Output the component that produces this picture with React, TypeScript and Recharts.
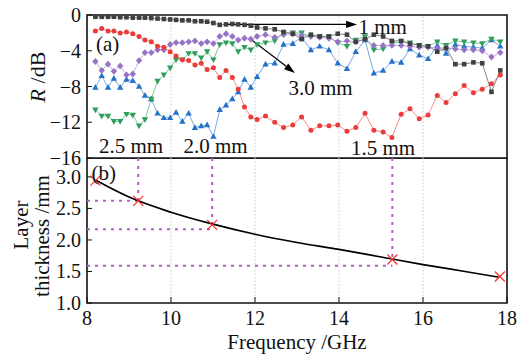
import {
  LineChart,
  ComposedChart,
  Line,
  Scatter,
  XAxis,
  YAxis,
  ReferenceLine,
  ReferenceArea,
  ReferenceDot,
} from 'recharts'

// X band and Ku band sweep frequencies (GHz)
const freqX = [8.2, 8.35, 8.5, 8.64, 8.79, 8.94, 9.09, 9.24, 9.38, 9.53, 9.68, 9.83, 9.98, 10.12, 10.27, 10.42, 10.57, 10.72, 10.86, 11.01, 11.16, 11.31, 11.46, 11.6, 11.75, 11.9, 12.05]
const freqKu = [12.25, 12.47, 12.68, 12.9, 13.11, 13.33, 13.54, 13.76, 13.97, 14.19, 14.4, 14.62, 14.83, 15.05, 15.26, 15.48, 15.69, 15.91, 16.12, 16.34, 16.55, 16.77, 16.98, 17.2, 17.41, 17.63, 17.84]
const freqGHz = [...freqX, ...freqKu]

// reflection loss R (dB) per layer thickness
const r10mm = [
  -0.2, -0.2, -0.2, -0.2, -0.25, -0.25, -0.3, -0.3, -0.3, -0.35, -0.4, -0.45, -0.5, -0.55, -0.6, -0.6, -0.7, -0.7, -0.75, -0.9, -1.1, -1.05, -1.0, -1.05, -1.1, -1.2, -1.4,
  -1.5, -1.6, -1.9, -2.1, -2.7, -2.2, -2.4, -2.4, -2.1, -2.2, -3.0, -2.7, -2.2, -2.4, -2.9, -2.9, -3.2, -3.4, -3.5, -4.1, -3.7, -5.5, -5.5, -5.3, -5.4, -8.6, -6.2,
]
const r15mm = [
  -1.8, -1.5, -1.8, -1.8, -2.0, -1.9, -2.1, -2.4, -2.8, -3.0, -3.5, -3.6, -4.1, -4.6, -5.0, -5.1, -5.6, -5.4, -6.1, -5.9, -7.0, -6.2, -7.0, -8.3, -10.3, -11.4, -11.7,
  -11.3, -12.0, -12.6, -12.3, -11.4, -12.9, -12.4, -12.4, -12.3, -13.0, -12.6, -11.0, -12.9, -13.1, -13.7, -11.1, -10.5, -11.6, -11.2, -9.0, -9.8, -8.8, -7.9, -8.7, -8.3, -7.7, -6.7,
]
const r20mm = [
  -8.1, -6.8, -8.1, -7.1, -8.1, -7.2, -7.35, -8.0, -9.0, -9.4, -11.0, -11.5, -11.5, -10.9, -11.9, -11.0, -12.6, -12.4, -12.3, -13.6, -10.6, -10.1, -9.4, -8.6, -7.2, -8.1, -6.9,
  -5.5, -5.4, -3.3, -3.2, -2.5, -3.9, -3.5, -3.9, -5.4, -6.0, -4.1, -2.8, -6.5, -6.2, -5.2, -5.3, -3.8, -4.5, -4.9, -3.4, -4.3, -3.3, -3.5, -3.6, -3.7, -2.8, -3.5,
]
const r25mm = [
  -10.6, -11.3, -11.3, -11.9, -11.9, -11.1, -11.2, -12.4, -11.7, -9.4, -7.4, -6.7, -5.9, -5.0, -5.0, -4.3, -4.3, -4.8, -4.1, -5.0, -3.3, -3.1, -3.2, -4.1, -3.6, -3.9, -3.3,
  -3.1, -2.9, -2.0, -2.0, -2.0, -2.4, -2.4, -2.4, -3.1, -3.5, -2.8, -2.4, -3.9, -3.8, -3.2, -3.0, -3.1, -3.4, -3.5, -3.0, -3.4, -2.9, -3.0, -3.1, -3.2, -2.7, -3.0,
]
const r30mm = [
  -5.2, -6.2, -5.5, -6.3, -5.7, -6.7, -6.6, -5.1, -4.2, -4.2, -3.9, -3.9, -3.3, -3.1, -3.1, -3.0, -2.9, -3.2, -3.0, -3.2, -2.4, -2.1, -2.4, -2.8, -2.6, -2.7, -2.4,
  -2.2, -2.5, -2.2, -2.1, -2.3, -2.4, -2.5, -2.6, -3.0, -2.9, -3.0, -2.7, -3.4, -3.4, -3.4, -3.4, -3.5, -3.6, -3.6, -3.7, -3.7, -3.8, -3.9, -3.9, -4.0, -4.7, -4.2,
]

// matching thickness curve and peak points
const curveFreq = [8.2, 9, 10, 11, 12, 13, 14, 15, 16, 17, 17.8]
const curveThick = [2.95, 2.68, 2.44, 2.25, 2.09, 1.96, 1.85, 1.73, 1.61, 1.5, 1.41]
const peakFreq = [8.2, 9.22, 10.98, 15.27, 17.83]
const peakThick = [2.94, 2.62, 2.24, 1.69, 1.42]
const guideFreq = [9.22, 10.98, 15.27]
const guideTop = [2.62, 2.24, 1.69]
const guideLevel = [2.62, 2.17, 1.59]

const xTicks = [8, 10, 12, 14, 16, 18]
const gridFreqs = [10, 12, 14, 16]
const rTicks = [0, -4, -8, -12, -16]
const thickTicks = [1.0, 1.5, 2.0, 2.5, 3.0]

const toSeries = (vals: number[]) => vals.map((v, i) => ({ f: freqGHz[i], r: v }))
const curveData = curveFreq.map((f, i) => ({ f, t: curveThick[i] }))
const peakData = peakFreq.map((f, i) => ({ f, t: peakThick[i] }))

const INK = '#111'
const SERIF = '"Liberation Serif", "DejaVu Serif", serif'

const yTick = (fmt: (v: number) => string) => (p: any) => (
  <text x={p.x} y={p.y} textAnchor="end" dominantBaseline="central" fontFamily={SERIF} fontSize={20} fill={INK}>
    {fmt(p.payload.value)}
  </text>
)
const xTick = (p: any) => (
  <text x={p.x} y={p.y} dy="0.72em" textAnchor="middle" fontFamily={SERIF} fontSize={20} fill={INK}>
    {p.payload.value}
  </text>
)
const minus = (v: number) => String(v).replace('-', '\u2212')
const oneDec = (v: number) => v.toFixed(1)

const square = (c: string) => (p: any) =>
  <rect key={`s${p.index}`} x={p.cx - 2.3} y={p.cy - 2.3} width={4.6} height={4.6} fill={c} />
const circle = (c: string) => (p: any) =>
  <circle key={`c${p.index}`} cx={p.cx} cy={p.cy} r={2.5} fill={c} />
const diamond = (c: string) => (p: any) =>
  <polygon key={`d${p.index}`} points={`${p.cx},${p.cy - 3.4} ${p.cx + 3.2},${p.cy} ${p.cx},${p.cy + 3.4} ${p.cx - 3.2},${p.cy}`} fill={c} />
const triUp = (c: string) => (p: any) =>
  <polygon key={`u${p.index}`} points={`${p.cx},${p.cy - 3.4} ${p.cx + 3.2},${p.cy + 2.3} ${p.cx - 3.2},${p.cy + 2.3}`} fill={c} />
const triDown = (c: string) => (p: any) =>
  <polygon key={`n${p.index}`} points={`${p.cx},${p.cy + 3.4} ${p.cx + 3.2},${p.cy - 2.3} ${p.cx - 3.2},${p.cy - 2.3}`} fill={c} />

const series = [
  { key: '2.0', vals: r20mm, line: '#6a9fe0', fill: '#2471c9', dot: triUp },
  { key: '2.5', vals: r25mm, line: '#73c08f', fill: '#2f9e5c', dot: triDown },
  { key: '3.0', vals: r30mm, line: '#b9a0da', fill: '#9872c6', dot: diamond },
  { key: '1.5', vals: r15mm, line: '#f38080', fill: '#ec3b3b', dot: circle },
  { key: '1', vals: r10mm, line: '#777', fill: '#404040', dot: square },
]

const Arrow = (p: any) => {
  const { x1, y1, x2, y2 } = p
  const a = Math.atan2(y2 - y1, x2 - x1)
  const L = 11
  const W = 3.6
  const bx = x2 - L * Math.cos(a)
  const by = y2 - L * Math.sin(a)
  const pts = `${x2},${y2} ${bx + W * Math.sin(a)},${by - W * Math.cos(a)} ${bx - W * Math.sin(a)},${by + W * Math.cos(a)}`
  return (
    <g>
      <line x1={x1} y1={y1} x2={bx} y2={by} stroke="#000" strokeWidth={1.3} />
      <polygon points={pts} fill="#000" />
    </g>
  )
}

const XMark = (p: any) => (
  <g stroke="#ff2a2a" strokeWidth={1.2}>
    <line x1={p.cx - 5} y1={p.cy - 5} x2={p.cx + 5} y2={p.cy + 5} />
    <line x1={p.cx - 5} y1={p.cy + 5} x2={p.cx + 5} y2={p.cy - 5} />
  </g>
)

const rLabel = (p: any) => {
  const vb = p.viewBox || { x: 27, y: 15 }
  const x = vb.x + 10
  const y = vb.y + 62
  return (
    <text x={x} y={y} transform={`rotate(-90 ${x} ${y})`} textAnchor="middle" dominantBaseline="central" fontSize={22} fontFamily={SERIF} fill={INK}>
      <tspan fontStyle="italic">R</tspan> /dB
    </text>
  )
}

const thickLabel = (p: any) => {
  const vb = p.viewBox || { x: 27, y: 0 }
  const x1 = vb.x - 6
  const y1 = vb.y + 67
  const x2 = vb.x + 15
  const y2 = vb.y + 78
  return (
    <g fontSize={21} fill={INK} fontFamily={SERIF}>
      <text x={x1} y={y1} transform={`rotate(-90 ${x1} ${y1})`} textAnchor="middle" dominantBaseline="central">Layer</text>
      <text x={x2} y={y2} transform={`rotate(-90 ${x2} ${y2})`} textAnchor="middle" dominantBaseline="central">thickness /mm</text>
    </g>
  )
}

const freqLabel = (p: any) => {
  const vb = p.viewBox || { x: 87, y: 145, width: 420, height: 51 }
  return (
    <text x={vb.x + vb.width / 2} y={vb.y + vb.height - 5} textAnchor="middle" fontSize={21} fontFamily={SERIF} fill={INK}>
      Frequency /GHz
    </text>
  )
}

const note = (value: string) => (p: any) => {
  const vb = p.viewBox || { x: 0, y: 0, width: 0, height: 0 }
  return (
    <text x={vb.x + vb.width / 2} y={vb.y + vb.height / 2} textAnchor="middle" dominantBaseline="central" fontSize={21} fontFamily={SERIF} fill={INK}>
      {value}
    </text>
  )
}

export default function App() {
  return (
    <div style={{ position: 'absolute', left: 0, top: 0, width: 530, height: 354, background: '#fff', fontFamily: SERIF }}>
      <div style={{ position: 'absolute', left: 0, top: 0 }}>
        <LineChart width={530} height={172} margin={{ top: 15, right: 23, bottom: 14, left: 27 }}>
          <XAxis type="number" dataKey="f" domain={[8, 18]} ticks={xTicks} hide />
          <YAxis
            type="number"
            domain={[-16, 0]}
            ticks={rTicks}
            interval={0}
            width={60}
            axisLine={false}
            tickSize={-5}
            tickMargin={11}
            tick={yTick(minus)}
            tickLine={{ stroke: INK }}
            label={rLabel}
          />
          {gridFreqs.map(g => (
            <ReferenceLine key={g} x={g} stroke="#c4c4c4" strokeDasharray="1.5 2" strokeWidth={0.9} />
          ))}
          {series.map(s => (
            <Line
              key={s.key}
              data={toSeries(s.vals)}
              dataKey="r"
              stroke={s.line}
              strokeWidth={0.9}
              dot={s.dot(s.fill)}
              activeDot={false}
              isAnimationActive={false}
            />
          ))}
          <ReferenceLine segment={[{ x: 11.26, y: -1.06 }, { x: 14.43, y: -1.06 }]} shape={Arrow} />
          <ReferenceLine segment={[{ x: 11.86, y: -2.57 }, { x: 12.95, y: -6.49 }]} shape={Arrow} />
          <ReferenceDot x={8.49} y={-3.3} r={0} fill="none" stroke="none" label={note('(a)')} />
          <ReferenceDot x={15.04} y={-1.3} r={0} fill="none" stroke="none" label={note('1 mm')} />
          <ReferenceDot x={13.56} y={-8.2} r={0} fill="none" stroke="none" label={note('3.0 mm')} />
          <ReferenceDot x={9.05} y={-14.7} r={0} fill="none" stroke="none" label={note('2.5 mm')} />
          <ReferenceDot x={11.06} y={-14.7} r={0} fill="none" stroke="none" label={note('2.0 mm')} />
          <ReferenceDot x={15.05} y={-14.9} r={0} fill="none" stroke="none" label={note('1.5 mm')} />
          <ReferenceArea x1={8} x2={18} y1={-16} y2={0} fill="none" stroke={INK} strokeWidth={1.6} />
        </LineChart>
      </div>
      <div style={{ position: 'absolute', left: 0, top: 158 }}>
        <ComposedChart width={530} height={196} margin={{ top: 0, right: 23, bottom: 0, left: 27 }}>
          <XAxis
            type="number"
            dataKey="f"
            domain={[8, 18]}
            ticks={xTicks}
            interval={0}
            height={51}
            axisLine={false}
            tickSize={-6}
            tickMargin={14}
            tick={xTick}
            tickLine={{ stroke: INK }}
            label={freqLabel}
          />
          <YAxis
            type="number"
            domain={[1, 3.3]}
            ticks={thickTicks}
            interval={0}
            width={60}
            axisLine={false}
            tickSize={-5}
            tickMargin={11}
            tick={yTick(oneDec)}
            tickLine={{ stroke: INK }}
            label={thickLabel}
          />
          {gridFreqs.map(g => (
            <ReferenceLine key={g} x={g} stroke="#c4c4c4" strokeDasharray="1.5 2" strokeWidth={0.9} />
          ))}
          {guideFreq.map((f, i) => (
            <ReferenceLine
              key={`v${f}`}
              segment={[{ x: f, y: 3.3 }, { x: f, y: guideTop[i] }]}
              stroke="#b45cc6"
              strokeWidth={2}
              strokeDasharray="3 5"
            />
          ))}
          {guideFreq.map((f, i) => (
            <ReferenceLine
              key={`h${f}`}
              segment={[{ x: 8, y: guideLevel[i] }, { x: f, y: guideLevel[i] }]}
              stroke="#b45cc6"
              strokeWidth={2}
              strokeDasharray="3 5"
            />
          ))}
          <Line data={curveData} dataKey="t" type="monotone" stroke="#000" strokeWidth={1.7} dot={false} activeDot={false} isAnimationActive={false} />
          <Scatter data={peakData} dataKey="t" shape={XMark} isAnimationActive={false} />
          <ReferenceDot x={8.4} y={3.06} r={0} fill="none" stroke="none" label={note('(b)')} />
          <ReferenceArea x1={8} x2={18} y1={1} y2={3.3} fill="none" stroke={INK} strokeWidth={1.6} />
        </ComposedChart>
      </div>
    </div>
  )
}
